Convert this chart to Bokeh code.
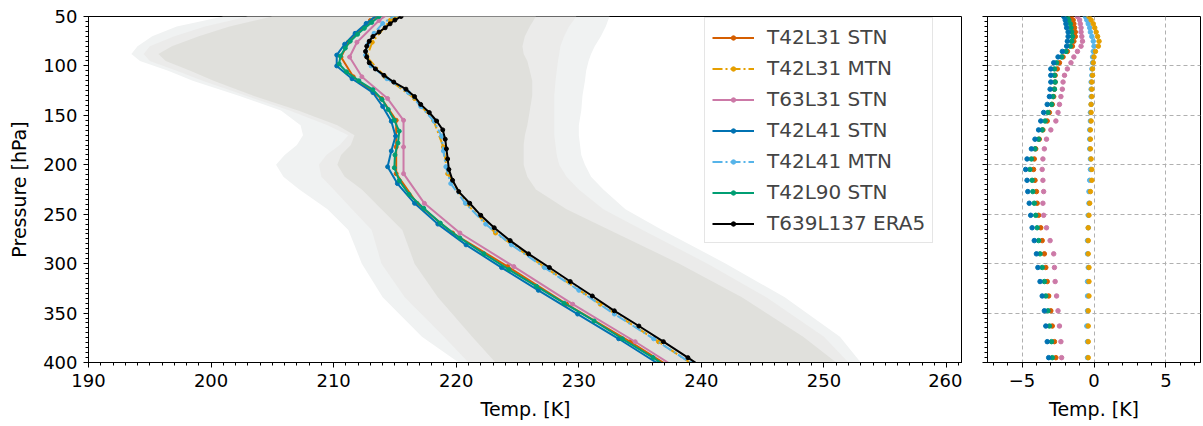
from bokeh.plotting import figure
from bokeh.models import (Range1d, SingleIntervalTicker, FixedTicker, Legend, LegendItem,
                          CustomJSTickFormatter)
from bokeh.layouts import row
from bokeh.embed import file_html
from bokeh.resources import INLINE

FONT = "DejaVu Sans"

# ---------------- data ----------------
# ERA5 reference profile (T639L137)
era5_p = [50.0, 53.6, 57.4, 61.4, 65.7, 70.2, 75.0, 80.0, 85.3, 90.9,
          96.8, 103.0, 109.5, 116.3, 123.5, 131.0, 138.9, 147.1, 155.7, 164.7,
          174.1, 183.9, 194.1, 204.7, 215.7, 227.1, 238.9, 251.1, 263.7, 276.7,
          290.1, 303.9, 318.1, 332.7, 347.7, 363.1, 378.9, 395.1, 411.6]
era5_t = [215.5, 215.0, 214.6, 214.2, 213.7, 213.2, 212.9, 212.7, 212.6, 212.7,
          212.9, 213.4, 214.1, 214.9, 215.9, 216.6, 217.1, 217.8, 218.4, 218.9,
          219.1, 219.2, 219.3, 219.4, 219.7, 220.2, 221.1, 222.0, 223.1, 224.4,
          225.9, 227.6, 229.3, 231.1, 232.9, 234.9, 236.9, 238.9, 240.9]

# L31 models
l31_p = [40, 54, 76, 91, 111, 133, 155, 182, 209, 239, 269, 303, 341, 379, 420]
t42l31_stn = [214.8, 213.0, 211.2, 210.6, 211.6, 213.9, 215.1, 215.1, 215.1, 216.8,
              219.7, 224.2, 229.0, 234.2, 239.4]
t42l31_mtn = [216.5, 214.6, 213.15, 212.7, 214.2, 216.6, 218.15, 218.95, 219.3, 220.8,
              223.2, 227.15, 231.75, 236.5, 241.5]
t63l31_stn = [215.3, 213.7, 211.9, 211.3, 212.3, 214.4, 215.7, 215.7, 215.7, 217.4,
              220.3, 224.7, 229.5, 234.6, 239.8]

# L41 models
l41_p = [40, 48, 57, 67, 78, 89, 100, 113, 127, 141, 156, 171, 186, 202, 219, 239,
         260, 281, 304, 327, 351, 376, 401, 425]
t42l41_stn = [214.6, 213.6, 212.65, 211.75, 210.9, 210.25, 210.25, 211.5, 213.2, 214.0,
              214.7, 215.05, 214.7, 214.4, 215.2, 216.6, 218.5, 220.8, 223.7, 226.7,
              229.9, 233.25, 236.45, 239.5]
t42l41_mtn = [216.7, 215.1, 214.0, 213.3, 212.8, 212.6, 213.05, 214.35, 216.1, 217.1,
              218.2, 218.8, 218.95, 219.15, 219.55, 220.75, 222.4, 224.5, 227.2, 230.0,
              232.9, 236.1, 239.2, 242.2]

# L90 model
l90_p = [40, 50, 56, 62, 68, 75, 82, 90, 98, 106, 115, 124, 134, 144, 155, 166,
         178, 190, 203, 216, 230, 244, 259, 274, 290, 306, 323, 340, 358, 376, 395, 414]
t42l90_stn = [215.2, 213.7, 213.1, 212.5, 211.95, 211.35, 210.95, 210.55, 210.45, 211.05,
              212.05, 213.2, 213.95, 214.45, 214.95, 215.35, 215.25, 215.0, 214.95, 215.35,
              216.15, 217.35, 218.7, 220.3, 222.25, 224.3, 226.55, 228.8, 231.25, 233.55,
              236.05, 238.4]

# Differences to ERA5 on ERA5 levels (right panel)
d_t42l31_stn = [-1.6, -1.45, -1.4, -1.35, -1.3, -1.3, -1.4, -1.5, -1.85, -2.15,
                -2.4, -2.55, -2.7, -2.7, -2.75, -2.8, -2.9, -3.1, -3.25, -3.55,
                -3.8, -4.05, -4.15, -4.2, -4.1, -4.0, -3.95, -3.85, -3.7, -3.6,
                -3.45, -3.35, -3.25, -3.15, -3.0, -2.9, -2.75, -2.65, -2.6]
d_t42l31_mtn = [-0.35, -0.2, -0.05, 0.05, 0.15, 0.25, 0.35, 0.3, 0.1, 0.0,
                -0.05, -0.1, -0.1, -0.15, -0.15, -0.15, -0.2, -0.2, -0.2, -0.25,
                -0.25, -0.25, -0.2, -0.15, -0.15, -0.25, -0.3, -0.35, -0.4, -0.4,
                -0.4, -0.35, -0.35, -0.35, -0.4, -0.4, -0.4, -0.4, -0.4]
d_t63l31_stn = [-1.15, -1.0, -0.95, -0.9, -0.9, -0.85, -0.8, -0.9, -1.15, -1.4,
                -1.6, -1.85, -2.05, -2.15, -2.2, -2.3, -2.4, -2.5, -2.65, -3.0,
                -3.3, -3.45, -3.55, -3.6, -3.55, -3.5, -3.55, -3.5, -3.3, -3.05,
                -2.8, -2.75, -2.7, -2.6, -2.5, -2.4, -2.3, -2.25, -2.15]
d_t42l41_stn = [-2.1, -2.0, -1.95, -1.9, -1.8, -1.8, -1.85, -1.9, -2.2, -2.5,
                -2.8, -3.0, -3.0, -3.0, -3.05, -3.1, -3.25, -3.5, -3.7, -3.85,
                -4.1, -4.35, -4.65, -4.75, -4.65, -4.6, -4.5, -4.4, -4.3, -4.15,
                -4.0, -3.9, -3.75, -3.6, -3.45, -3.35, -3.25, -3.15, -3.1]
d_t42l41_mtn = [-0.6, -0.5, -0.4, -0.3, -0.25, -0.15, -0.05, 0.0, -0.05, -0.1,
                -0.1, -0.15, -0.15, -0.2, -0.2, -0.2, -0.2, -0.25, -0.25, -0.3,
                -0.3, -0.3, -0.25, -0.25, -0.3, -0.35, -0.35, -0.4, -0.4, -0.45,
                -0.45, -0.4, -0.45, -0.45, -0.45, -0.5, -0.45, -0.45, -0.45]
d_t42l90_stn = [-1.85, -1.75, -1.65, -1.6, -1.55, -1.5, -1.55, -1.65, -1.95, -2.25,
                -2.6, -2.75, -2.75, -2.7, -2.75, -2.85, -2.95, -3.2, -3.4, -3.6,
                -3.85, -4.1, -4.35, -4.45, -4.3, -4.25, -4.15, -4.05, -3.95, -3.85,
                -3.75, -3.6, -3.45, -3.35, -3.2, -3.1, -2.95, -2.9, -2.8]

# Spread envelopes (left panel shading)
band_p = [50, 60, 70, 80, 88, 95, 105, 115, 130, 145, 160, 170, 180, 190, 200, 212,
          225, 245, 266, 300, 334, 374, 400]
outer_lo = [201.0, 197.2, 195.2, 194.0, 193.5, 194.2, 196.5, 198.5, 202.2, 205.7, 207.3, 207.5,
            207.0, 206.0, 205.3, 205.9, 207.2, 209.5, 211.2, 212.3, 214.0, 217.2, 220.2]
outer_hi = [232.5, 232.2, 231.8, 231.3, 231.0, 230.8, 230.6, 230.5, 230.3, 230.2, 230.0, 230.0,
            230.1, 230.2, 230.5, 231.0, 232.0, 233.8, 236.8, 242.0, 246.8, 251.3, 253.0]
mid_lo = [203.0, 199.5, 197.0, 195.0, 194.5, 195.0, 197.2, 199.3, 202.8, 206.4, 209.5, 211.2,
          210.5, 209.4, 208.8, 209.0, 210.0, 211.5, 213.1, 213.9, 215.8, 219.0, 221.0]
mid_hi = [229.8, 229.2, 228.8, 228.5, 228.4, 228.3, 228.2, 228.1, 228.0, 228.0, 228.0, 228.0,
          228.1, 228.2, 228.4, 229.0, 230.0, 232.0, 235.2, 240.5, 245.3, 250.0, 252.0]
core_lo = [205.0, 201.5, 199.0, 196.8, 195.7, 196.3, 198.3, 200.2, 203.4, 207.1, 210.3, 211.7,
           211.4, 210.6, 210.3, 210.9, 212.3, 213.9, 215.6, 216.6, 218.5, 221.3, 223.2]
core_hi = [226.5, 226.0, 225.6, 225.4, 225.5, 225.8, 226.0, 226.2, 226.2, 226.0, 225.8, 225.6,
           225.5, 225.5, 225.5, 225.8, 226.5, 229.0, 232.5, 238.2, 243.3, 248.3, 251.0]

labels = ["T42L31 STN", "T42L31 MTN", "T63L31 STN", "T42L41 STN", "T42L41 MTN",
          "T42L90 STN", "T639L137 ERA5"]
colors = ["#D55E00", "#E69F00", "#CC79A7", "#0072B2", "#56B4E9", "#009E73", "black"]
dashes = ["solid", "10 3 2 3", "solid", "solid", "10 3 2 3", "solid", "solid"]

# ---------------- left panel ----------------
p = figure(frame_width=874, frame_height=346, x_range=Range1d(190, 261.3),
           y_range=Range1d(400, 50), output_backend="svg", toolbar_location=None,
           min_border_left=88, min_border_right=0, min_border_top=16, min_border_bottom=64,
           background_fill_color="white", border_fill_color="white")

for lo, hi, col in [(outer_lo, outer_hi, "#f0f2f2"), (mid_lo, mid_hi, "#ebebea"),
                    (core_lo, core_hi, "#e0e0dc")]:
    p.patch(lo + hi[::-1], band_p + band_p[::-1], fill_color=col, line_color=None)

series = [(t42l31_stn, l31_p), (t42l31_mtn, l31_p), (t63l31_stn, l31_p),
          (t42l41_stn, l41_p), (t42l41_mtn, l41_p), (t42l90_stn, l90_p),
          (era5_t, era5_p)]
items = []
for (t, pr), lab, col, dsh in zip(series, labels, colors, dashes):
    lr = p.line(t, pr, line_color=col, line_width=2, line_dash=dsh)
    sr = p.scatter(t, pr, size=4, fill_color=col, line_color=col, marker="circle")
    items.append(LegendItem(label=lab, renderers=[lr, sr]))

legend = Legend(items=items, location=(616, 119), label_text_font=FONT,
                label_text_font_size="20px", glyph_width=42, glyph_height=11,
                label_height=20, spacing=7, padding=7, margin=0, label_standoff=13,
                border_line_color="#cccccc", border_line_width=1,
                background_fill_color="white", background_fill_alpha=0.8)
p.add_layout(legend)

p.xaxis.ticker = SingleIntervalTicker(interval=10, num_minor_ticks=10)
p.yaxis.ticker = SingleIntervalTicker(interval=50, num_minor_ticks=10)
p.xaxis.axis_label = "Temp. [K]"
p.yaxis.axis_label = "Pressure [hPa]"
p.xgrid.visible = False
p.ygrid.visible = False

# ---------------- right panel ----------------
q = figure(frame_width=213, frame_height=346, x_range=Range1d(-7.4, 7.4),
           y_range=Range1d(400, 50), output_backend="svg", toolbar_location=None,
           min_border_left=25, min_border_right=3, min_border_top=16, min_border_bottom=64,
           background_fill_color="white", border_fill_color="white")

q.xaxis.ticker = SingleIntervalTicker(interval=5, num_minor_ticks=5)
q.yaxis.ticker = SingleIntervalTicker(interval=50, num_minor_ticks=10)
q.xgrid.ticker = FixedTicker(ticks=[-5, 0, 5])
for g in (q.xgrid, q.ygrid):
    g.grid_line_color = "#b0b0b0"
    g.grid_line_dash = "4 3"
    g.grid_line_width = 1
q.xaxis.axis_label = "Temp. [K]"
q.yaxis.formatter = CustomJSTickFormatter(code="return ''")

diffs = [(d_t42l31_stn, colors[0]), (d_t42l41_mtn, colors[4]), (d_t42l31_mtn, colors[1]),
         (d_t63l31_stn, colors[2]), (d_t42l90_stn, colors[5]), (d_t42l41_stn, colors[3])]
for d, col in diffs:
    q.scatter(d, era5_p, size=4.5, fill_color=col, line_color=col, marker="circle")

for fig in (p, q):
    fig.outline_line_color = "black"
    fig.outline_line_width = 1
    fig.outline_line_alpha = 1
    for ax in fig.axis:
        ax.axis_line_color = "black"
        ax.major_tick_line_color = "black"
        ax.minor_tick_line_color = "black"
        ax.major_tick_out = 5
        ax.major_tick_in = 0
        ax.minor_tick_out = 3
        ax.minor_tick_in = 0
        ax.major_label_standoff = 6
        ax.major_label_text_font = FONT
        ax.major_label_text_color = "black"
        ax.major_label_text_font_size = "18px"
        ax.axis_label_text_font = FONT
        ax.axis_label_text_font_size = "19px"
        ax.axis_label_text_font_style = "normal"
        ax.axis_label_text_color = "black"
        ax.axis_label_standoff = 8
p.yaxis.axis_label_standoff = 10

layout = row(p, q)
open("out.html", "w").write(file_html(layout, INLINE))
